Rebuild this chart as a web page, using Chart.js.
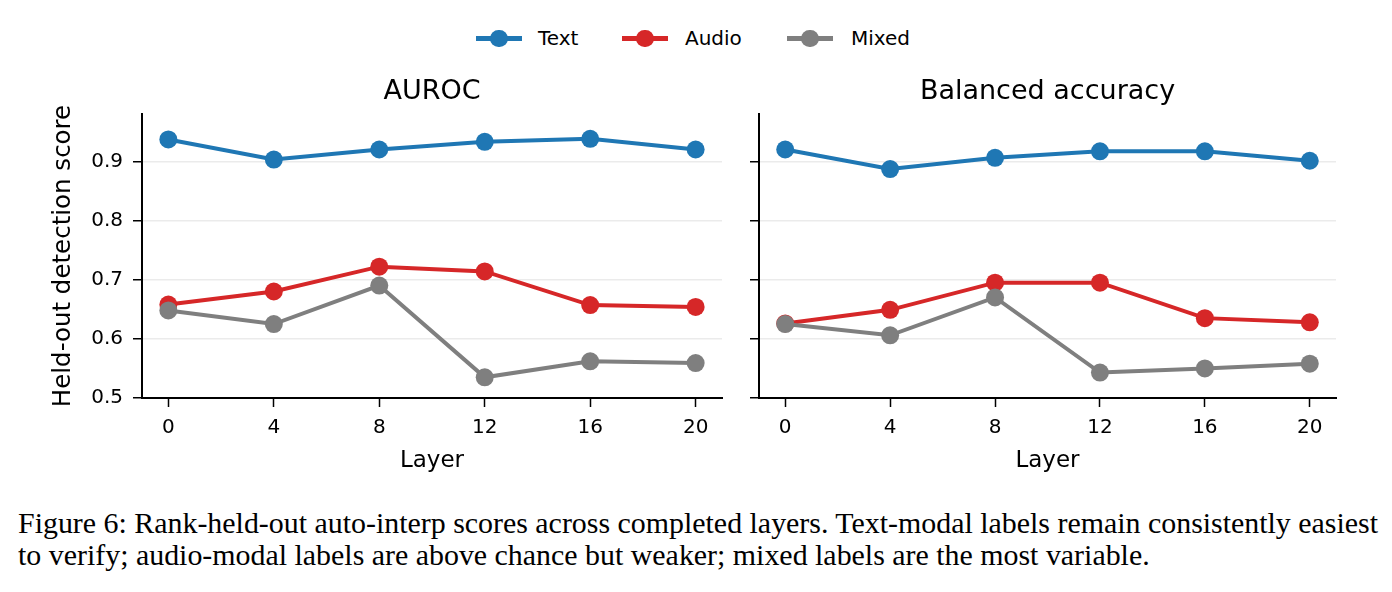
<!DOCTYPE html>
<html>
<head>
<meta charset="utf-8">
<script src="https://cdn.jsdelivr.net/npm/chart.js@4.4.1/dist/chart.umd.min.js"></script>
<style>
    body { margin: 0; background: #fff; }
    #page { position: relative; width: 1392px; height: 592px; overflow: hidden; background: #fff; }
    .panel { position: absolute; top: 72px; height: 406px; }
    .leg-line { position: absolute; top: 36px; width: 46px; height: 4.5px; }
    .leg-dot { position: absolute; top: 29.5px; width: 17.5px; height: 17.5px; border-radius: 50%; }
    .leg-text { position: absolute; top: 26px; line-height: 24px; font: 20px 'DejaVu Sans'; color: #000; }
    #caption { position: absolute; left: 18px; top: 507px; font: 30px 'Liberation Serif'; line-height: 32px;
               color: #000; white-space: nowrap; transform-origin: left top; }
</style>
</head>
<body>
<div id="page">
    <div id="legend"></div>
    <div class="panel" style="left:0; width:740px;"><canvas id="aurocChart"></canvas></div>
    <div class="panel" style="left:740px; width:620px;"><canvas id="balChart"></canvas></div>
    <div id="caption">
        <span id="capLine1">Figure 6: Rank-held-out auto-interp scores across completed layers. Text-modal labels remain consistently easiest</span><br>
        <span>to verify; audio-modal labels are above chance but weaker; mixed labels are the most variable.</span>
    </div>
</div>
<script>
// ---- data ----
const layers = [0, 4, 8, 12, 16, 20];
const yTicks = [0.5, 0.6, 0.7, 0.8, 0.9];

const aurocText  = [0.937, 0.903, 0.920, 0.933, 0.938, 0.920];
const aurocAudio = [0.658, 0.680, 0.722, 0.714, 0.657, 0.654];
const aurocMixed = [0.648, 0.625, 0.690, 0.535, 0.562, 0.559];

const balText  = [0.920, 0.887, 0.906, 0.917, 0.917, 0.901];
const balAudio = [0.626, 0.649, 0.695, 0.695, 0.635, 0.628];
const balMixed = [0.625, 0.606, 0.670, 0.543, 0.550, 0.558];

const seriesNames = ['Text', 'Audio', 'Mixed'];
const seriesColors = ['#1f77b4', '#d62728', '#7f7f7f'];

Chart.defaults.font.family = "'DejaVu Sans'";
Chart.defaults.color = '#000';

// legend (shared, above both panels)
const legendPos = [
    { line: 476, text: 538 },
    { line: 622, text: 685 },
    { line: 787, text: 851 }
];
const legend = document.getElementById('legend');
seriesNames.forEach((name, i) => {
    const p = legendPos[i];
    legend.innerHTML += `
        <div class="leg-line" style="left:${p.line}px; background:${seriesColors[i]}"></div>
        <div class="leg-dot" style="left:${p.line + 23 - 8.75}px; background:${seriesColors[i]}"></div>
        <div class="leg-text" style="left:${p.text}px">${name}</div>`;
});

function makeDataset(label, values, color, order) {
    return {
        label: label,
        data: layers.map((x, i) => ({ x: x, y: values[i] })),
        borderColor: color,
        backgroundColor: color,
        borderWidth: 4,
        pointRadius: 9,
        pointHoverRadius: 9,
        pointBorderWidth: 0,
        tension: 0,
        order: order
    };
}

function makeChart(canvasId, title, series, showYLabels) {
    const yWidth = showYLabels ? 142 : 19;
    return new Chart(document.getElementById(canvasId), {
        type: 'line',
        data: {
            datasets: [
                makeDataset('Text', series[0], seriesColors[0], 2),
                makeDataset('Audio', series[1], seriesColors[1], 1),
                makeDataset('Mixed', series[2], seriesColors[2], 0)
            ]
        },
        options: {
            responsive: true,
            maintainAspectRatio: false,
            animation: false,
            events: [],
            layout: { padding: { top: 0, bottom: 0, left: 0, right: showYLabels ? 18 : 24 } },
            plugins: {
                legend: { display: false },
                tooltip: { enabled: false },
                title: {
                    display: true,
                    fullSize: false,   // centre over the plot area, like the figure
                    text: title,
                    font: { size: 27, weight: 'normal' },
                    color: '#000',
                    padding: { top: 4, bottom: 5.6 }
                }
            },
            scales: {
                x: {
                    type: 'linear',
                    min: -1,
                    max: 21,
                    afterBuildTicks: (scale) => { scale.ticks = layers.map(v => ({ value: v })); },
                    afterFit: (scale) => { scale.height = 80; },
                    grid: { drawOnChartArea: false, drawTicks: true, tickLength: 9, tickColor: '#000', tickWidth: 1.5 },
                    border: { display: true, color: '#000', width: 2 },
                    ticks: { font: { size: 20 }, color: '#000', padding: 9, maxRotation: 0 },
                    title: { display: true, text: 'Layer', font: { size: 23 }, color: '#000', padding: { top: 0, bottom: 3 } }
                },
                y: {
                    min: 0.5,
                    max: 0.98,
                    afterBuildTicks: (scale) => { scale.ticks = yTicks.map(v => ({ value: v })); },
                    afterFit: (scale) => { scale.width = yWidth; },
                    grid: {
                        color: (ctx) => ctx.tick && ctx.tick.value === 0.5 ? 'rgba(0,0,0,0)' : '#ebebeb',
                        lineWidth: 1.5,
                        tickLength: 9,
                        tickColor: '#000',
                        tickWidth: 1.5
                    },
                    border: { display: true, color: '#000', width: 2 },
                    ticks: {
                        font: { size: 20 },
                        color: showYLabels ? '#000' : 'rgba(0,0,0,0)',
                        padding: 10,
                        callback: (v) => v.toFixed(1)
                    },
                    title: {
                        display: showYLabels,
                        text: 'Held-out detection score',
                        font: { size: 24.5 },
                        color: '#000',
                        padding: { top: 49, bottom: 0 }
                    }
                }
            }
        }
    });
}

makeChart('aurocChart', 'AUROC', [aurocText, aurocAudio, aurocMixed], true);
makeChart('balChart', 'Balanced accuracy', [balText, balAudio, balMixed], false);

// squeeze the caption to the width it has in the figure
const cap = document.getElementById('caption');
const w = document.getElementById('capLine1').getBoundingClientRect().width;
cap.style.transform = `scaleX(${1360 / w})`;
</script>
</body>
</html>
